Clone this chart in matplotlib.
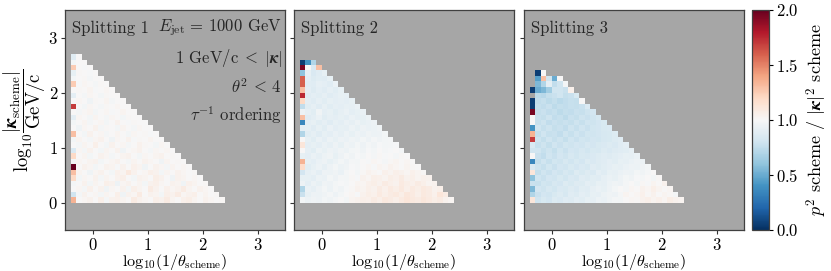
import numpy as np
import matplotlib
matplotlib.use("Agg")
import matplotlib.pyplot as plt

plt.rcParams['font.family'] = 'cmr10'
plt.rcParams['mathtext.fontset'] = 'cm'
plt.rcParams['axes.formatter.use_mathtext'] = True

# bins: log10(1/theta) from -0.4 to 2.4, log10(kappa) from 0 to 2.7
x_edges = np.linspace(-0.4, 2.4, 29)
y_edges = np.linspace(0.0, 2.7, 28)

# ratio p^2 / |kappa|^2 in percent, one list per row (bottom row first),
# cells listed from the left edge, None = empty bin
splitting1 = [
    [135, 100, 102, 104, 100, 106, 98, 104, 105, 103, 100, 108, 104, 102, 100, 106, 104, 108, 103, 100, 105, 107, 103, 100, 104, 102, 100, 101],
    [80, 98, 104, 100, 102, 97, 103, 100, 106, 96, 104, 102, 108, 100, 104, 103, 97, 106, 104, 108, 102, 104, 106, 100, 103, 100, 101],
    [100, 102, 98, 105, 100, 104, 96, 102, 100, 104, 97, 106, 103, 100, 108, 104, 100, 105, 102, 104, 108, 103, 100, 104, 102, 100],
    [98, 100, 104, 97, 103, 100, 106, 104, 95, 102, 104, 100, 103, 97, 104, 106, 102, 100, 104, 103, 96, 105, 103, 100, 101],
    [120, 97, 102, 100, 104, 98, 103, 100, 104, 106, 100, 97, 104, 103, 100, 107, 104, 100, 96, 104, 103, 100, 102, 100],
    [130, 103, 100, 96, 102, 104, 100, 97, 105, 103, 110, 104, 100, 102, 106, 104, 97, 103, 100, 104, 102, 100, 101],
    [200, 100, 104, 102, 97, 100, 104, 103, 99, 104, 100, 105, 103, 96, 100, 104, 102, 98, 103, 100, 102, 100],
    [97, 102, 100, 103, 104, 97, 100, 102, 104, 100, 98, 103, 100, 104, 102, 100, 96, 103, 100, 101, 100],
    [120, 100, 103, 97, 100, 104, 102, 98, 100, 103, 104, 100, 97, 102, 100, 103, 104, 100, 101, 100],
    [85, 102, 98, 104, 100, 97, 103, 100, 104, 96, 100, 102, 104, 100, 98, 102, 100, 102, 100],
    [100, 98, 103, 100, 106, 100, 97, 104, 100, 102, 98, 100, 104, 101, 100, 97, 102, 100],
    [97, 103, 100, 98, 102, 104, 100, 96, 102, 100, 104, 99, 101, 100, 103, 100, 100],
    [130, 100, 97, 104, 100, 102, 98, 100, 103, 100, 97, 102, 100, 101, 99, 100],
    [100, 96, 102, 100, 104, 98, 101, 100, 97, 103, 100, 98, 102, 100, 100],
    [97, 100, 103, 98, 100, 102, 97, 100, 104, 100, 99, 101, 100, 100],
    [90, 102, 100, 97, 103, 100, 98, 102, 100, 97, 101, 100, 100],
    [100, 98, 101, 103, 97, 100, 102, 99, 100, 103, 100, 100],
    [170, 100, 97, 102, 100, 98, 101, 100, 102, 100, 100],
    [100, 102, 100, 96, 101, 100, 103, 98, 100, 100],
    [90, 100, 98, 102, 100, 97, 101, 100, 100],
    [100, 101, 100, 103, 99, 100, 102, 100],
    [125, 99, 102, 100, 98, 101, 100],
    [97, 100, 101, 98, 100, 100],
    [92, 101, 100, 99, 100],
    [125, 100, 99, 100],
    [97, 100, 100],
    [88, 100],
]

splitting2 = [
    [97, 94, 96, 95, 97, 96, 98, 100, 97, 103, 104, 106, 105, 108, 106, 110, 108, 106, 109, 112, 110, 108, 111, 109, 107, 108, 104, 102],
    [78, 92, 95, 94, 96, 98, 95, 97, 100, 102, 99, 104, 107, 105, 109, 106, 108, 110, 107, 111, 109, 106, 110, 108, 105, 112, 108],
    [70, 93, 91, 95, 97, 94, 98, 96, 99, 101, 104, 103, 106, 104, 108, 105, 109, 107, 110, 106, 109, 107, 110, 108, 104, 106],
    [95, 90, 94, 92, 96, 95, 97, 99, 98, 100, 103, 102, 105, 107, 104, 108, 106, 104, 109, 107, 105, 108, 106, 103, 104],
    [92, 92, 90, 94, 93, 97, 95, 98, 97, 101, 99, 104, 102, 106, 105, 103, 107, 105, 108, 104, 106, 103, 105, 104],
    [82, 91, 93, 90, 95, 94, 96, 93, 98, 100, 97, 101, 104, 102, 100, 105, 103, 106, 104, 102, 105, 103, 101],
    [118, 89, 92, 94, 91, 95, 97, 94, 96, 99, 98, 100, 102, 99, 103, 101, 104, 102, 100, 103, 101, 100],
    [135, 92, 90, 93, 95, 92, 94, 97, 95, 98, 97, 100, 99, 102, 100, 98, 101, 103, 100, 102, 100],
    [92, 90, 93, 91, 94, 96, 92, 95, 98, 96, 99, 97, 100, 98, 101, 99, 100, 98, 101, 100],
    [100, 91, 89, 94, 92, 95, 93, 96, 94, 97, 98, 96, 99, 97, 100, 98, 99, 100, 98],
    [112, 90, 92, 90, 93, 91, 95, 92, 96, 94, 97, 95, 98, 96, 99, 97, 98, 99],
    [100, 92, 89, 93, 90, 94, 92, 95, 93, 96, 94, 97, 95, 98, 96, 97, 98],
    [70, 89, 91, 88, 92, 90, 93, 91, 94, 92, 95, 93, 96, 94, 95, 97],
    [90, 91, 88, 92, 89, 93, 90, 92, 91, 94, 92, 95, 93, 94, 96],
    [35, 90, 92, 89, 91, 88, 92, 90, 93, 91, 94, 92, 93, 95],
    [130, 88, 90, 93, 89, 91, 90, 92, 90, 93, 91, 92, 94],
    [95, 91, 89, 96, 90, 92, 89, 91, 93, 90, 92, 93],
    [75, 89, 91, 88, 92, 89, 91, 90, 92, 91, 93],
    [120, 90, 88, 91, 89, 92, 90, 91, 90, 92],
    [175, 88, 90, 89, 91, 88, 90, 92, 91],
    [130, 90, 87, 90, 88, 91, 89, 92],
    [160, 89, 88, 91, 90, 88, 93],
    [160, 90, 86, 89, 88, 92],
    [60, 92, 85, 88, 92],
    [195, 100, 85, 130],
    [5, 40, 70],
]

splitting3 = [
    [112, 80, 84, 82, 86, 85, 88, 87, 90, 89, 92, 91, 94, 93, 96, 98, 97, 100, 102, 101, 104, 106, 103, 105, 102, 107, 104, 103],
    [70, 78, 82, 80, 84, 86, 83, 88, 86, 90, 89, 92, 91, 94, 96, 95, 98, 103, 100, 102, 105, 101, 104, 100, 103, 101, 98],
    [55, 82, 79, 83, 81, 85, 84, 87, 85, 89, 88, 91, 93, 92, 95, 97, 100, 98, 102, 100, 104, 102, 106, 103, 100, 102],
    [78, 77, 81, 79, 83, 82, 86, 84, 87, 86, 90, 89, 92, 91, 94, 96, 95, 98, 100, 97, 101, 99, 103, 100, 104],
    [60, 80, 78, 82, 80, 84, 81, 85, 83, 88, 86, 89, 88, 91, 93, 92, 95, 97, 96, 99, 98, 100, 97, 101],
    [112, 76, 80, 78, 82, 79, 83, 81, 86, 84, 87, 85, 90, 88, 92, 91, 93, 95, 94, 97, 96, 98, 100],
    [85, 79, 77, 81, 78, 82, 80, 84, 82, 85, 83, 88, 86, 89, 90, 92, 91, 93, 95, 94, 96, 97],
    [35, 76, 80, 77, 81, 79, 83, 80, 84, 82, 86, 85, 87, 88, 90, 89, 92, 91, 93, 95, 94],
    [100, 78, 75, 80, 78, 82, 79, 83, 81, 84, 83, 85, 86, 88, 87, 89, 90, 92, 91, 93],
    [80, 80, 77, 79, 76, 81, 78, 82, 80, 83, 81, 84, 83, 86, 85, 87, 88, 89, 91],
    [85, 77, 79, 76, 80, 78, 81, 79, 82, 80, 83, 82, 84, 85, 86, 85, 88, 90],
    [170, 79, 76, 80, 77, 79, 76, 80, 78, 81, 79, 82, 81, 83, 84, 86, 88],
    [135, 76, 80, 77, 78, 75, 79, 77, 80, 78, 81, 80, 82, 83, 84, 86],
    [40, 80, 77, 79, 76, 78, 75, 79, 77, 80, 78, 81, 82, 84, 85],
    [100, 77, 79, 75, 78, 76, 78, 76, 79, 77, 80, 79, 82, 84],
    [100, 78, 76, 79, 75, 77, 74, 78, 76, 79, 78, 80, 83],
    [195, 76, 78, 75, 77, 74, 76, 75, 78, 77, 79, 82],
    [5, 77, 75, 78, 74, 76, 75, 77, 76, 78, 85],
    [5, 75, 77, 74, 76, 73, 75, 77, 76, 100],
    [None, 74, 72, 76, 78, 80, 76, 78, 84],
    [5, 50, 55, 65, 80, 80, 78, 105],
    [None, 55, 70, 90, 75, 80, 98],
    [None, 45, 130, 80, 50, 100],
    [None, 5, 100],
]

titles = ["Splitting 1", "Splitting 2", "Splitting 3"]
panels = [splitting1, splitting2, splitting3]


def to_grid(rows):
    grid = np.full((len(y_edges) - 1, len(x_edges) - 1), np.nan)
    for i, row in enumerate(rows):
        for j, v in enumerate(row):
            if v is not None:
                grid[i, j] = v / 100.0
    return grid


W, H = 831, 271
fig = plt.figure(figsize=(W / 100, H / 100), dpi=100)
lefts = [65, 294, 524]
axes = [fig.add_axes([l / W, 41 / H, 220 / W, 220 / H]) for l in lefts]
cax = fig.add_axes([752 / W, 41 / H, 17 / W, 220 / H])

for k, ax in enumerate(axes):
    mesh = ax.pcolormesh(x_edges, y_edges, to_grid(panels[k]), cmap='RdBu_r', vmin=0, vmax=2)
    ax.set_facecolor('#a6a6a6')
    ax.set_xlim(-0.5, 3.5)
    ax.set_ylim(-0.5, 3.5)
    ax.set_xticks([0, 1, 2, 3])
    ax.set_yticks([0, 1, 2, 3])
    ax.tick_params(labelsize=12, length=3, width=0.8, color='0.2', pad=2)
    for s in ax.spines.values():
        s.set_color('0.25')
        s.set_linewidth(0.9)
    ax.set_xlabel(r'$\mathrm{log}_{10}(1/\theta_{\rm scheme})$', fontsize=11.5)
    ax.xaxis.set_label_coords(0.5, -0.098)
    ax.text(0.03, 0.918, titles[k], transform=ax.transAxes, fontsize=12, va='center', ha='left', color='0.15')
    if k > 0:
        ax.set_yticklabels([])

axes[0].set_ylabel(r'$\mathrm{log}_{10}\dfrac{|\boldsymbol{\kappa}_{\rm scheme}|}{\rm GeV/c}$', fontsize=13.5)
axes[0].yaxis.set_label_coords(-0.075, 0.5)
notes = [r'$E_{\rm jet}\,=\,1000$ GeV', r'$1$ GeV/c$\;<\;|\boldsymbol{\kappa}|$', r'$\theta^2\,<\,4$', r'$\tau^{-1}$ ordering']
for t, yy in zip(notes, [0.918, 0.782, 0.65, 0.523]):
    axes[0].text(0.985, yy, t, transform=axes[0].transAxes, fontsize=12, va='center', ha='right', color='0.15')

cb = fig.colorbar(mesh, cax=cax)
cb.set_ticks([0.0, 0.5, 1.0, 1.5, 2.0])
cb.ax.tick_params(labelsize=12, length=3, width=0.8, pad=2)
cb.outline.set_linewidth(0.9)
cb.outline.set_edgecolor('0.25')
cb.set_label(r'$p^2$ scheme / $|\boldsymbol{\kappa}|^2$ scheme', fontsize=13, labelpad=4)

fig.savefig('out.png', dpi=100)
